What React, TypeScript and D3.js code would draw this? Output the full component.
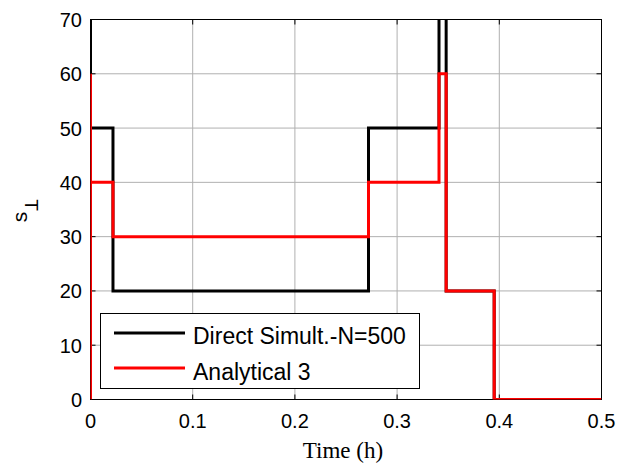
import React from "react";
import * as d3 from "d3";

const directT = [0, 0, 0, 0.022, 0.022, 0.272, 0.272, 0.341, 0.341, 0.348, 0.348, 0.395, 0.395, 0.5];
const directS = [0, 100, 50, 50, 20, 20, 50, 50, 100, 100, 20, 20, 0, 0];
const analyticT = [0, 0, 0, 0.022, 0.022, 0.272, 0.272, 0.341, 0.341, 0.348, 0.348, 0.395, 0.395, 0.5];
const analyticS = [0, 60, 40, 40, 30, 30, 40, 40, 60, 60, 20, 20, 0, 0];
const xTicks = [0, 0.1, 0.2, 0.3, 0.4, 0.5];
const yTicks = [0, 10, 20, 30, 40, 50, 60, 70];
const legendLabels = ["Direct Simult.-N=500", "Analytical 3"];
const colors = ["#000000", "#ff0000"];

export default function App() {
  const W = 628, H = 466;
  const L = 90.5, R = 601.5, T = 19.5, B = 399.5;
  const x = d3.scaleLinear().domain([0, 0.5]).range([L, R]);
  const y = d3.scaleLinear().domain([0, 70]).range([B, T]);
  const line = d3.line<[number, number]>().x(d => x(d[0])).y(d => y(d[1]));
  const dPts = directT.map((t, i) => [t, directS[i]] as [number, number]);
  const aPts = analyticT.map((t, i) => [t, analyticS[i]] as [number, number]);
  const font = "'Liberation Sans', Arial, sans-serif";
  const tk = 5;
  return (
    <svg width={W} height={H} style={{ position: "absolute", left: 0, top: 0, background: "#fff" }}>
      <rect width={W} height={H} fill="#fff" />
      <defs>
        <clipPath id="plot">
          <rect x={L} y={T} width={R - L} height={B - T} />
        </clipPath>
      </defs>
      {xTicks.map(t => (
        <line key={"gx" + t} x1={x(t)} x2={x(t)} y1={T} y2={B} stroke="#b0b0b0" strokeWidth={1} />
      ))}
      {yTicks.map(t => (
        <line key={"gy" + t} x1={L} x2={R} y1={y(t)} y2={y(t)} stroke="#b0b0b0" strokeWidth={1} />
      ))}
      <rect x={L} y={T} width={R - L} height={B - T} fill="none" stroke="#000" strokeWidth={1} />
      {xTicks.map(t => (
        <g key={"tx" + t}>
          <line x1={x(t)} x2={x(t)} y1={B} y2={B - tk} stroke="#000" />
          <line x1={x(t)} x2={x(t)} y1={T} y2={T + tk} stroke="#000" />
          <text x={x(t)} y={428} textAnchor="middle" fontFamily={font} fontSize={20}>{d3.format("")(t)}</text>
        </g>
      ))}
      {yTicks.map(t => (
        <g key={"ty" + t}>
          <line x1={L} x2={L + tk} y1={y(t)} y2={y(t)} stroke="#000" />
          <line x1={R} x2={R - tk} y1={y(t)} y2={y(t)} stroke="#000" />
          <text x={82} y={y(t) + 7.5} textAnchor="end" fontFamily={font} fontSize={20}>{t}</text>
        </g>
      ))}
      <g clipPath="url(#plot)">
        <path d={line(dPts) || ""} fill="none" stroke={colors[0]} strokeWidth={3} />
        <path d={line(aPts) || ""} fill="none" stroke={colors[1]} strokeWidth={3} />
      </g>
      <g>
        <rect x={100.5} y={313.5} width={319} height={75} fill="#fff" stroke="#000" strokeWidth={1} />
        {legendLabels.map((lab, i) => (
          <g key={lab}>
            <line x1={114} x2={185} y1={333 + i * 35} y2={333 + i * 35} stroke={colors[i]} strokeWidth={3} />
            <text x={193} y={344 + i * 36} fontFamily={font} fontSize={23}>{lab}</text>
          </g>
        ))}
      </g>
      <text x={343} y={458} textAnchor="middle" fontFamily="'Liberation Serif', 'Times New Roman', serif" fontSize={23}>Time (h)</text>
      <text transform="translate(27,217) rotate(-90)" textAnchor="middle" fontFamily={font} fontSize={21}>s</text>
      <text transform="translate(25,205) rotate(90)" textAnchor="middle" fontFamily={font} fontSize={19}>T</text>
    </svg>
  );
}
